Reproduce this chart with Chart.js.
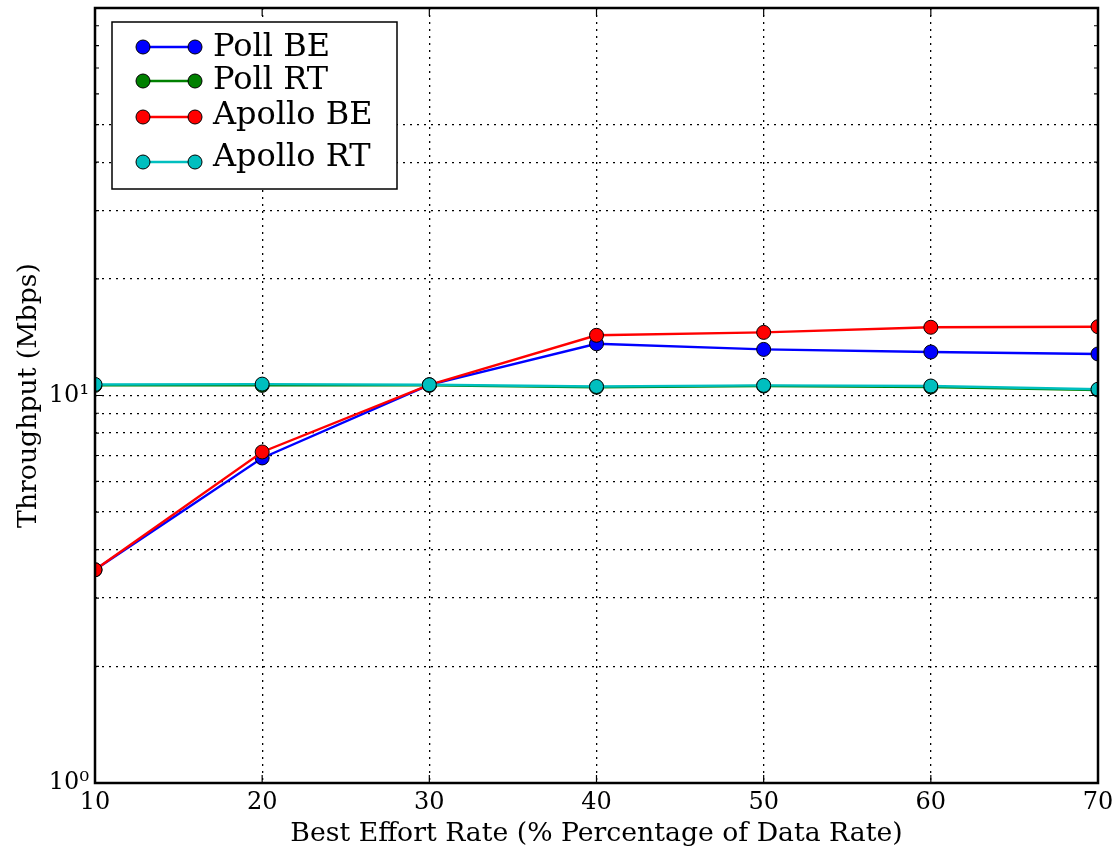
<!DOCTYPE html>
<html>
<head>
<meta charset="utf-8">
<script src="https://cdn.jsdelivr.net/npm/chart.js@4.4.0/dist/chart.umd.min.js"></script>
<style>
  html, body { margin: 0; padding: 0; background: #fff; }
  #wrap { width: 1112px; height: 850px; }
</style>
</head>
<body>
<div id="wrap"><canvas id="chart"></canvas></div>
<script>
// values (Mbps, log scale)
var rates = [10, 20, 30, 40, 50, 60, 70];
var pollBE = [3.55, 6.9, 10.65, 13.6, 13.15, 12.95, 12.8];
var pollRT = [10.62, 10.62, 10.62, 10.5, 10.58, 10.52, 10.33];
var apolloBE = [3.55, 7.15, 10.65, 14.3, 14.55, 15.0, 15.05];
var apolloRT = [10.68, 10.7, 10.66, 10.55, 10.62, 10.58, 10.38];

var xTicks = [10, 20, 30, 40, 50, 60, 70];
var yTicks = [1, 2, 3, 4, 5, 6, 7, 8, 9, 10, 20, 30, 40, 50, 60, 70, 80, 90, 100];
var yGridValues = [2, 3, 4, 5, 6, 7, 8, 9, 10, 20, 30, 40, 50];
var yLabels = { 1: "10\u2070", 10: "10\u00b9" };

var serif = "'DejaVu Serif', serif";

function pts(vals) {
  return rates.map(function (r, i) { return { x: r, y: vals[i] }; });
}

function series(label, vals, color, order) {
  return {
    label: label,
    data: pts(vals),
    borderColor: color,
    backgroundColor: color,
    borderWidth: 2.4,
    pointRadius: 7,
    pointHoverRadius: 7,
    pointBorderColor: "#000",
    pointBorderWidth: 1,
    tension: 0,
    clip: 0,
    order: order
  };
}

// frame, inward ticks and the legend box, matplotlib-like
var framePlugin = {
  id: "frame",
  afterDatasetsDraw: function (chart) {
    var ctx = chart.ctx, ca = chart.chartArea;
    var xs = chart.scales.x, ys = chart.scales.y;
    ctx.save();
    ctx.strokeStyle = "#000";
    ctx.lineWidth = 1.2;
    xTicks.forEach(function (v) {
      var px = xs.getPixelForValue(v);
      ctx.beginPath();
      ctx.moveTo(px, ca.bottom); ctx.lineTo(px, ca.bottom - 8);
      ctx.moveTo(px, ca.top); ctx.lineTo(px, ca.top + 8);
      ctx.stroke();
    });
    yTicks.forEach(function (v) {
      var py = ys.getPixelForValue(v);
      var len = (v === 1 || v === 10 || v === 100) ? 8 : 4;
      ctx.beginPath();
      ctx.moveTo(ca.left, py); ctx.lineTo(ca.left + len, py);
      ctx.moveTo(ca.right, py); ctx.lineTo(ca.right - len, py);
      ctx.stroke();
    });
    ctx.lineWidth = 2.5;
    ctx.strokeRect(ca.left, ca.top, ca.right - ca.left, ca.bottom - ca.top);

    // legend
    var bx = ca.left + 17, by = ca.top + 14, bw = 285, bh = 167;
    ctx.fillStyle = "#fff";
    ctx.fillRect(bx, by, bw, bh);
    ctx.lineWidth = 1.5;
    ctx.strokeRect(bx, by, bw, bh);
    var markRows = [25, 59, 95, 140];
    var textRows = [25, 58, 93, 135];
    ctx.font = "32px " + serif;
    ctx.textBaseline = "middle";
    chart.data.datasets.forEach(function (ds, k) {
      var y = by + markRows[k];
      var x1 = bx + 31, x2 = bx + 83;
      ctx.strokeStyle = ds.borderColor;
      ctx.lineWidth = 2.4;
      ctx.beginPath(); ctx.moveTo(x1, y); ctx.lineTo(x2, y); ctx.stroke();
      [x1, x2].forEach(function (x) {
        ctx.beginPath();
        ctx.arc(x, y, 7, 0, Math.PI * 2);
        ctx.fillStyle = ds.backgroundColor;
        ctx.fill();
        ctx.strokeStyle = "#000";
        ctx.lineWidth = 1;
        ctx.stroke();
      });
      ctx.fillStyle = "#000";
      ctx.fillText(ds.label, bx + 101, by + textRows[k] + 1);
    });
    ctx.restore();
  }
};

new Chart(document.getElementById("chart"), {
  type: "line",
  data: {
    datasets: [
      series("Poll BE", pollBE, "#0000ff", 3),
      series("Poll RT", pollRT, "#008000", 2),
      series("Apollo BE", apolloBE, "#ff0000", 1),
      series("Apollo RT", apolloRT, "#00bfbf", 0)
    ]
  },
  options: {
    responsive: true,
    maintainAspectRatio: false,
    animation: false,
    layout: { padding: { left: 0, right: 14, top: 8, bottom: 0 } },
    plugins: { legend: { display: false }, tooltip: { enabled: false } },
    scales: {
      x: {
        type: "linear",
        min: 10,
        max: 70,
        afterBuildTicks: function (scale) {
          scale.ticks = xTicks.map(function (v) { return { value: v }; });
        },
        afterFit: function (scale) {
          scale.height = 67;
          scale.paddingLeft = 0;
          scale.paddingRight = 0;
        },
        ticks: { color: "#000", font: { family: serif, size: 24 }, padding: 5, maxRotation: 0 },
        grid: {
          drawTicks: false,
          color: function (c) {
            var v = c.tick && c.tick.value;
            return (v === 10 || v === 70) ? "rgba(0,0,0,0)" : "#000";
          },
          lineWidth: 1.3
        },
        border: { display: false, dash: [2, 5] },
        title: {
          display: true,
          text: "Best Effort Rate (% Percentage of Data Rate)",
          color: "#000",
          font: { family: serif, size: 26.7 },
          padding: { top: 0, bottom: 0 }
        }
      },
      y: {
        type: "logarithmic",
        min: 1,
        max: 100,
        afterBuildTicks: function (scale) {
          scale.ticks = yTicks.map(function (v) { return { value: v }; });
        },
        afterFit: function (scale) {
          scale.width = 95;
          scale.paddingTop = 0;
          scale.paddingBottom = 0;
        },
        ticks: {
          autoSkip: false,
          color: "#000",
          font: { family: serif, size: 24 },
          padding: 6,
          callback: function (v) { return yLabels[v] || ""; }
        },
        grid: {
          drawTicks: false,
          color: function (c) {
            var v = c.tick && c.tick.value;
            return yGridValues.indexOf(v) >= 0 ? "#000" : "rgba(0,0,0,0)";
          },
          lineWidth: 1.3
        },
        border: { display: false, dash: [2, 5] },
        title: {
          display: true,
          text: "Throughput (Mbps)",
          color: "#000",
          font: { family: serif, size: 26.7 },
          padding: { top: 13, bottom: 4 }
        }
      }
    }
  },
  plugins: [framePlugin]
});
</script>
</body>
</html>
